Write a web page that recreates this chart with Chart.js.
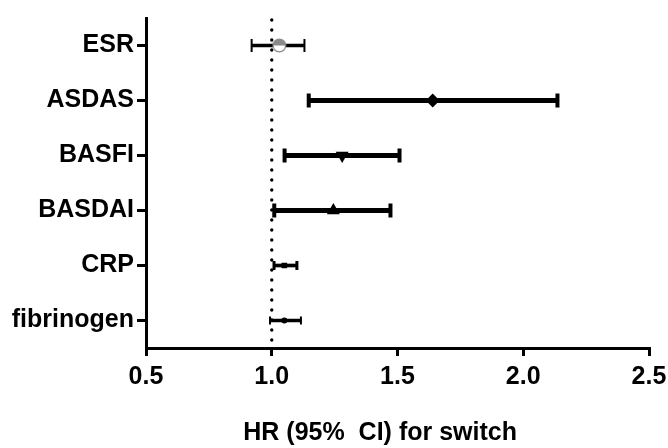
<!DOCTYPE html>
<html>
<head>
<meta charset="utf-8">
<script src="https://cdn.jsdelivr.net/npm/chart.js@4.4.0/dist/chart.umd.min.js"></script>
<style>
  html, body { margin: 0; padding: 0; background: #fff; }
  #wrap { width: 668px; height: 448px; }
</style>
</head>
<body>
<div id="wrap"><canvas id="forestChart"></canvas></div>
<script>
// data
const labels = ["ESR", "ASDAS", "BASFI", "BASDAI", "CRP", "fibrinogen"];
const hr     = [1.03, 1.64, 1.28, 1.245, 1.05, 1.05];
const ciLow  = [0.92, 1.147, 1.051, 1.01, 1.009, 0.993];
const ciHigh = [1.13, 2.136, 1.508, 1.472, 1.10, 1.116];
const xTicks = [0.5, 1.0, 1.5, 2.0, 2.5];
const refLine = 1.0;

// styling per row
const thickRow   = [false, true, true, true, false, false];
const capHeight  = [13, 14, 14, 14, 9, 8];
const capWidth   = [2, 4, 4, 4, 3, 2];
const markerStyle = ["esr", "rectRot", "triangle", "triangle", "rect", "circle"];
const markerSize  = [6.5, 7, 7.5, 7.5, 4, 3];
const markerRot   = [0, 0, 180, 0, 0, 0];

// half filled grey circle used for ESR
function halfCircle() {
  const c = document.createElement("canvas");
  c.width = 15; c.height = 15;
  const g = c.getContext("2d");
  g.beginPath();
  g.arc(7.5, 7.5, 6.3, 0, Math.PI * 2);
  g.fillStyle = "#fff";
  g.fill();
  g.beginPath();
  g.arc(7.5, 7.5, 6.3, Math.PI, Math.PI * 2);
  g.closePath();
  g.fillStyle = "#8a8a8a";
  g.fill();
  g.beginPath();
  g.arc(7.5, 7.5, 6.3, 0, Math.PI * 2);
  g.strokeStyle = "#8a8a8a";
  g.lineWidth = 1.3;
  g.stroke();
  return c;
}
const esrImg = halfCircle();

const ciPairs = labels.map((l, i) => [ciLow[i], ciHigh[i]]);

// error bar caps, drawn on the bar elements
const capsPlugin = {
  id: "caps",
  afterDatasetsDraw(chart) {
    const ctx = chart.ctx;
    ctx.save();
    ctx.strokeStyle = "#000";
    chart.data.datasets.forEach((ds, di) => {
      if (ds.type === "line") return;
      const meta = chart.getDatasetMeta(di);
      meta.data.forEach((el, i) => {
        if (ds.data[i] == null) return;
        const p = el.getProps(["x", "base", "y"], true);
        ctx.lineWidth = capWidth[i];
        [p.base, p.x].forEach(px => {
          ctx.beginPath();
          ctx.moveTo(px, p.y - capHeight[i] / 2);
          ctx.lineTo(px, p.y + capHeight[i] / 2);
          ctx.stroke();
        });
      });
    });
    ctx.restore();
  }
};

// dotted line at HR = 1
const refPlugin = {
  id: "refLine",
  beforeDatasetsDraw(chart) {
    const ctx = chart.ctx;
    const x = chart.scales.x.getPixelForValue(refLine);
    ctx.save();
    ctx.strokeStyle = "#000";
    ctx.lineWidth = 3.4;
    ctx.lineCap = "round";
    ctx.setLineDash([0, 10]);
    ctx.beginPath();
    ctx.moveTo(x, chart.chartArea.top + 2);
    ctx.lineTo(x, chart.chartArea.bottom);
    ctx.stroke();
    ctx.restore();
  }
};

const boldFont = { family: "'Liberation Sans', Arial, sans-serif", size: 25, weight: "bold" };

new Chart(document.getElementById("forestChart"), {
  type: "bar",
  data: {
    labels: labels,
    datasets: [
      {
        label: "CI thick",
        data: ciPairs.map((p, i) => thickRow[i] ? p : null),
        backgroundColor: "#000",
        barThickness: 4.5,
        grouped: false,
        order: 2
      },
      {
        label: "CI thin",
        data: ciPairs.map((p, i) => thickRow[i] ? null : p),
        backgroundColor: "#000",
        barThickness: 3,
        grouped: false,
        order: 2
      },
      {
        type: "line",
        label: "HR",
        indexAxis: "y",
        data: hr,
        showLine: false,
        pointStyle: markerStyle.map(s => s === "esr" ? esrImg : s),
        pointRadius: markerSize,
        pointRotation: markerRot,
        pointBackgroundColor: "#000",
        pointBorderColor: "#000",
        pointBorderWidth: 0,
        order: 1
      }
    ]
  },
  options: {
    indexAxis: "y",
    responsive: true,
    maintainAspectRatio: false,
    animation: false,
    layout: { padding: { top: 15, right: 0, bottom: 0, left: 0 } },
    scales: {
      x: {
        type: "linear",
        min: 0.5,
        max: 2.5,
        afterBuildTicks: s => { s.ticks = xTicks.map(v => ({ value: v })); },
        afterFit: s => { s.height = 100; s.paddingRight = 19; },
        ticks: {
          color: "#000",
          font: boldFont,
          padding: 6,
          callback: v => Number(v).toFixed(1)
        },
        grid: {
          display: true,
          drawOnChartArea: false,
          color: "#000",
          lineWidth: 3,
          tickLength: 8
        },
        border: { display: true, color: "#000", width: 3 },
        title: {
          display: true,
          text: "HR (95%  CI) for switch\u00a0\u00a0\u00a0\u00a0\u00a0",
          color: "#000",
          font: boldFont,
          padding: { top: 0, bottom: 0 }
        }
      },
      y: {
        type: "category",
        offset: true,
        afterFit: s => { s.width = 146; },
        ticks: { color: "#000", font: boldFont, padding: 3 },
        grid: {
          display: true,
          offset: false,
          drawOnChartArea: false,
          color: "#000",
          lineWidth: 3,
          tickLength: 9
        },
        border: { display: true, color: "#000", width: 3 }
      }
    },
    plugins: {
      legend: { display: false },
      tooltip: { enabled: false }
    }
  },
  plugins: [refPlugin, capsPlugin]
});
</script>
</body>
</html>
